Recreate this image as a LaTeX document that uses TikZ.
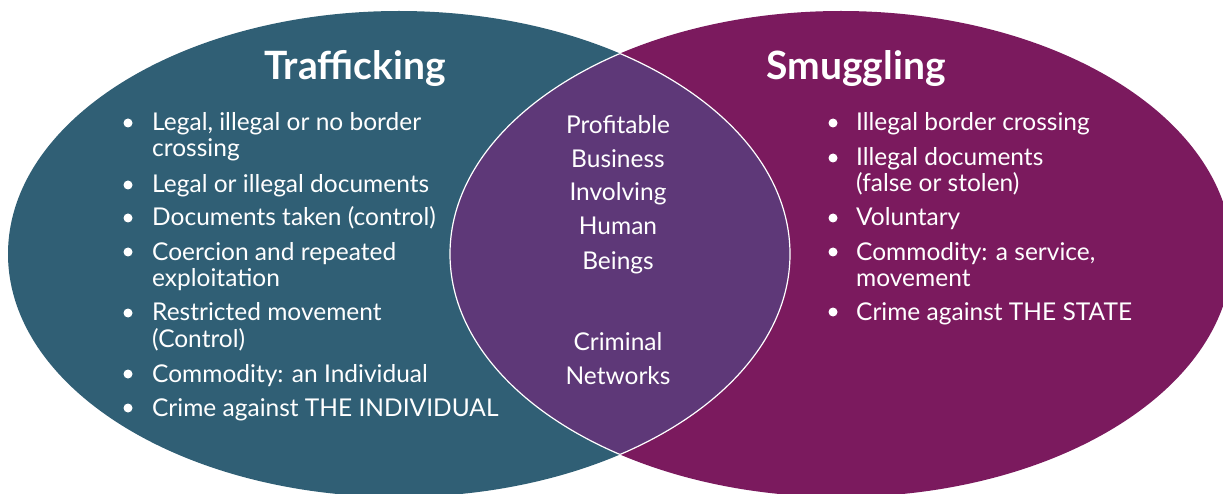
\documentclass[tikz,border=0pt]{standalone}
\usepackage{fontspec}
\setmainfont{Lato}
\definecolor{teal}{HTML}{305F75}
\definecolor{plum}{HTML}{7B1A5E}
\definecolor{lens}{HTML}{5E3878}
\begin{document}
\begin{tikzpicture}[x=1pt,y=-1pt,
  itm/.style={anchor=base west, align=left, text=white, inner sep=0pt,
    font=\fontsize{24.5}{26.5}\selectfont},
  mid/.style={anchor=base, text=white, inner sep=0pt,
    font=\fontsize{24.5}{26.5}\selectfont},
  ttl/.style={anchor=base, text=white, inner sep=0pt,
    font=\fontsize{39}{42}\selectfont\bfseries},
  bul/.style={fill=white}]
\useasboundingbox (0,0) rectangle (1223,494);
\fill[teal] (399,254) ellipse [x radius=391pt, y radius=243pt];
\fill[plum] (841,254) ellipse [x radius=391pt, y radius=243pt];
\begin{scope}
  \clip (399,254) ellipse [x radius=391pt, y radius=243pt];
  \fill[lens] (841,254) ellipse [x radius=391pt, y radius=243pt];
  \draw[white, line width=1.2pt] (841,254) ellipse [x radius=391pt, y radius=243pt];
\end{scope}
\begin{scope}
  \clip (841,254) ellipse [x radius=391pt, y radius=243pt];
  \draw[white, line width=1.2pt] (399,254) ellipse [x radius=391pt, y radius=243pt];
\end{scope}
% titles
\node[ttl] (tt) at (355,80) {Trafficking};
\node[ttl] (ts) at (856,80) {Smuggling};
% left list (multi-line nodes: base = last line)
\node[itm] (l1) at (152,157) {Legal, illegal or no border\\crossing};
\node[itm] (l2) at (152,193) {Legal or illegal documents};
\node[itm] (l3) at (152,226) {Documents taken (control)};
\node[itm] (l4) at (152,287) {Coercion and repeated\\exploitation};
\node[itm] (l5) at (152,347) {Restricted movement\\(Control)};
\node[itm] (l6) at (152,382) {Commodity: an Individual};
\node[itm] (l7) at (152,416) {Crime against THE INDIVIDUAL};
\foreach \y in {131,193,226,260,321,382,416}
  \fill[bul] (128,\y-8) circle (4.5pt);
% right list
\node[itm] (r1) at (856,131) {Illegal border crossing};
\node[itm] (r2) at (856,192) {Illegal documents\\(false or stolen)};
\node[itm] (r3) at (856,226) {Voluntary};
\node[itm] (r4) at (856,287) {Commodity: a service,\\movement};
\node[itm] (r5) at (856,320) {Crime against THE STATE};
\foreach \y in {131,166,226,260,320}
  \fill[bul] (833,\y-8) circle (4.5pt);
% middle
\node[mid] (m1) at (618,134) {Profitable};
\node[mid] (m2) at (618,168) {Business};
\node[mid] (m3) at (618,201) {Involving};
\node[mid] (m4) at (618,235) {Human};
\node[mid] (m5) at (618,270) {Beings};
\node[mid] (m6) at (618,350) {Criminal};
\node[mid] (m7) at (618,384) {Networks};
\end{tikzpicture}
\end{document}
